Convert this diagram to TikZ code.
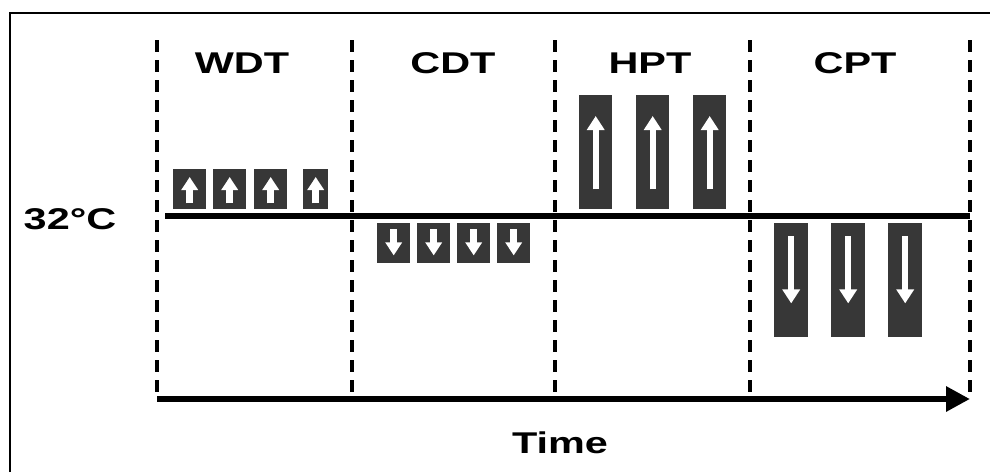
\documentclass[tikz,border=0pt]{standalone}
\usepackage{fontspec}
\setmainfont{Liberation Sans}[FakeStretch=1.38]
\usetikzlibrary{arrows.meta,calc}
\definecolor{boxgray}{RGB}{55,55,55}
\begin{document}
\begin{tikzpicture}[x=1pt,y=-1pt,
  lbl/.style={font=\bfseries\fontsize{30}{30}\selectfont, inner sep=0pt, anchor=center},
  blk/.style={fill=boxgray, draw=none, inner sep=0pt, anchor=north west},
  smallarr/.style={white, line width=7pt, -{Triangle[length=13pt,width=16pt]}},
  bigarr/.style={white, line width=6pt, -{Triangle[length=14pt,width=17pt]}},
  divider/.style={line width=3.2pt, dash pattern=on 12pt off 8pt},
  frameline/.style={line width=2pt}
]
\useasboundingbox (0,0) rectangle (990,472);
% frame (left and top only)
\coordinate (fTL) at (10,13);
\coordinate (fBL) at (10,472);
\coordinate (fTR) at (990,13);
\draw[frameline] (fBL) -- (fTL) -- (fTR);

% dashed dividers
\foreach \n/\x in {d1/157,d2/352,d3/555,d4/750,d5/970}{
  \coordinate (\n t) at (\x,40);
  \coordinate (\n b) at (\x,399);
  \draw[divider] (\n t) -- (\n b);
}

% phase labels
\node[lbl] (wdt) at (242,63) {WDT};
\node[lbl] (cdt) at (453,63) {CDT};
\node[lbl] (hpt) at (650,63) {HPT};
\node[lbl] (cpt) at (855,63) {CPT};
\node[lbl] (temp) at (70,219) {32°C};
\node[lbl] (time) at (560,443) {Time};

% baseline 32C
\coordinate (bl0) at (165,216);
\coordinate (bl1) at (970,216);
\draw[line width=6pt] (bl0) -- (bl1);

% time axis
\draw[line width=6.5pt, -{Triangle[length=24pt,width=24pt]}] (d1b) -- (d5b);

% WDT small up boxes
\foreach \n/\x/\w in {w1/173/33,w2/213/33,w3/254/33,w4/303/25}{
  \node[blk, minimum width=\w pt, minimum height=40pt] (\n) at (\x,169) {};
  \draw[smallarr] ($(\n.south)+(0,-6)$) -- ($(\n.north)+(0,8)$);
}
% CDT small down boxes
\foreach \n/\x in {c1/377,c2/417,c3/457,c4/497}{
  \node[blk, minimum width=33pt, minimum height=40pt] (\n) at (\x,223) {};
  \draw[smallarr] ($(\n.north)+(0,6)$) -- ($(\n.south)+(0,-8)$);
}
% HPT tall up boxes
\foreach \n/\x in {h1/579,h2/636,h3/693}{
  \node[blk, minimum width=33pt, minimum height=114pt] (\n) at (\x,95) {};
  \draw[bigarr] ($(\n.south)+(0,-20)$) -- ($(\n.north)+(0,21)$);
}
% CPT tall down boxes
\foreach \n/\x in {p1/774,p2/831,p3/888}{
  \node[blk, minimum width=34pt, minimum height=114pt] (\n) at (\x,223) {};
  \draw[bigarr] ($(\n.north)+(0,13)$) -- ($(\n.south)+(0,-34)$);
}
\end{tikzpicture}
\end{document}
